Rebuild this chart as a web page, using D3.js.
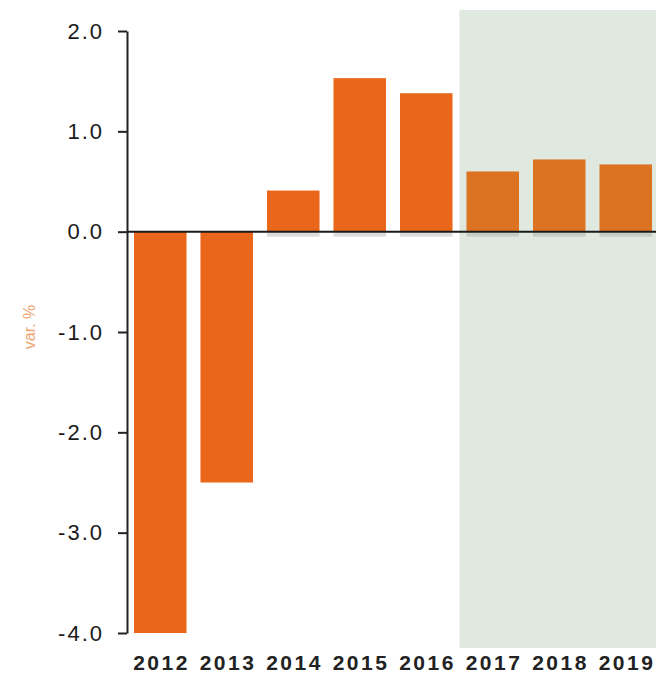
<!DOCTYPE html>
<html>
<head>
<meta charset="utf-8">
<script src="https://cdn.jsdelivr.net/npm/d3@7"></script>
<style>
  html, body { margin: 0; padding: 0; background: #fff; }
  svg { display: block; }
  text { font-family: "Liberation Sans", Arial, sans-serif; }
</style>
</head>
<body>
<svg id="chart" width="656" height="677"></svg>
<script>
// Annual change, % (2017 onwards are forecasts, shaded)
const years = ["2012", "2013", "2014", "2015", "2016", "2017", "2018", "2019"];
const values = [-4.0, -2.5, 0.41, 1.53, 1.38, 0.60, 0.72, 0.67];
const forecastYears = ["2017", "2018", "2019"];
const yTicks = [2, 1, 0, -1, -2, -3, -4];
const yLabel = "var. %";

const svg = d3.select("#chart");

const x = d3.scaleBand()
  .domain(years)
  .range([127, 659])
  .paddingInner(0.21)
  .paddingOuter(0.105);

const y = d3.scaleLinear()
  .domain([-4, 2])
  .range([633, 31]);

// Forecast shading
const step = x.step();
const shadeX0 = x(forecastYears[0]) - (step - x.bandwidth()) / 2;
svg.append("rect")
  .attr("x", shadeX0)
  .attr("y", 10)
  .attr("width", 656 - shadeX0)
  .attr("height", 638)
  .attr("fill", "#dfe9df");

// Bars
svg.append("g")
  .selectAll("rect")
  .data(years.map((yr, i) => ({ yr, v: values[i] })))
  .join("rect")
  .attr("x", d => x(d.yr))
  .attr("width", x.bandwidth())
  .attr("y", d => y(Math.max(0, d.v)))
  .attr("height", d => Math.abs(y(d.v) - y(0)))
  .attr("fill", d => forecastYears.includes(d.yr) ? "#dc7322" : "#e9661b");

// Faint shadow under the zero line
svg.append("g")
  .selectAll("rect")
  .data(years.filter((yr, i) => values[i] > 0))
  .join("rect")
  .attr("x", d => x(d))
  .attr("width", x.bandwidth())
  .attr("y", y(0) + 1)
  .attr("height", 4)
  .attr("fill", "#8a8a8a")
  .attr("opacity", 0.3);

// Zero line
svg.append("line")
  .attr("x1", 127).attr("x2", 656)
  .attr("y1", y(0)).attr("y2", y(0))
  .attr("stroke", "#1a1a1a")
  .attr("stroke-width", 2);

// Y axis
const yAxis = d3.axisLeft(y)
  .tickValues(yTicks)
  .tickFormat(d => d3.format(".1f")(d).replace("\u2212", "-"))
  .tickSize(9)
  .tickSizeOuter(0)
  .tickPadding(14);

const gy = svg.append("g")
  .attr("transform", "translate(127,0)")
  .call(yAxis);
gy.select(".domain").attr("stroke", "#222").attr("stroke-width", 2);
gy.selectAll(".tick line").attr("stroke", "#222").attr("stroke-width", 2);
gy.selectAll(".tick text")
  .attr("fill", "#1a1a1a")
  .style("font-size", "22px")
  .style("letter-spacing", "2px")
  .style("font-family", "'Liberation Sans', Arial, sans-serif");

// X labels
const xAxis = d3.axisBottom(x).tickSize(0).tickPadding(0);
const gx = svg.append("g")
  .attr("transform", "translate(0,655)")
  .call(xAxis);
gx.select(".domain").remove();
gx.selectAll(".tick text")
  .attr("fill", "#222")
  .style("font-size", "21px")
  .style("font-weight", "bold")
  .style("letter-spacing", "2.5px")
  .attr("dx", "1.25px")
  .style("font-family", "'Liberation Sans', Arial, sans-serif");

// Y axis title
svg.append("text")
  .attr("transform", `translate(35,${y(-0.95)}) rotate(-90)`)
  .attr("text-anchor", "middle")
  .attr("fill", "#efa673")
  .style("font-size", "16px")
  .text(yLabel);
</script>
</body>
</html>
